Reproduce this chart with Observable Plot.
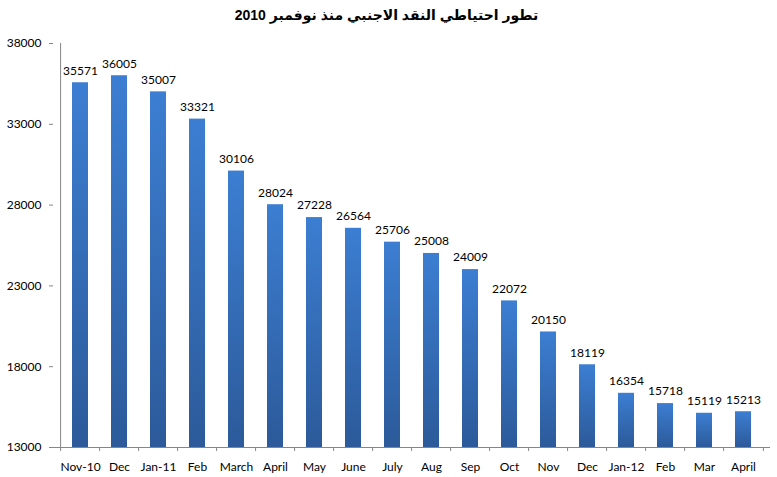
<!DOCTYPE html>
<html><head><meta charset="utf-8">
<script src="https://cdn.jsdelivr.net/npm/d3@7"></script>
<script src="https://cdn.jsdelivr.net/npm/@observablehq/plot@0.6"></script>
<style>
html,body{margin:0;padding:0;background:#fff;}
#title{height:30px;line-height:31px;text-align:center;font-family:"Liberation Sans","DejaVu Sans",Arial,sans-serif;font-weight:bold;font-size:14px;color:#000;padding-right:4px;}
svg{display:block;}
</style></head>
<body>
<div id="title">تطور احتياطي النقد الاجنبي منذ نوفمبر 2010</div>
<div id="chart"></div>
<script>
const months = ["Nov-10","Dec","Jan-11","Feb","March","April","May","June","July","Aug","Sep","Oct","Nov","Dec ","Jan-12","Feb ","Mar","April "];
const reserves = [35571,36005,35007,33321,30106,28024,27228,26564,25706,25008,24009,22072,20150,18119,16354,15718,15119,15213];
const yTicks = [13000,18000,23000,28000,33000,38000];

const data = months.map((m,i)=>({month:m, value:reserves[i]}));
const W = 777, marginLeft = 53, marginRight = 7;
const step = (W - marginLeft - marginRight) / months.length;

const chart = Plot.plot({
  width: W,
  height: 447,
  marginTop: 13,
  marginBottom: 30,
  marginLeft,
  marginRight,
  style: {fontFamily: "Lato, 'Open Sans', sans-serif", fontSize: "12px", color: "#000", background: "#fff"},
  x: {domain: months, paddingInner: 0.6, paddingOuter: 0.3, label: null},
  y: {domain: [13000, 38000], label: null},
  marks: [
    Plot.barY(data, {x: "month", y1: 13000, y2: "value", fill: "url(#barGrad)"}),
    Plot.text(data, {x: "month", y: "value", text: d => String(d.value), dy: -12, fill: "#000", fontSize: 12}),
    Plot.axisY({ticks: yTicks, tickSize: 4, tickPadding: 8, stroke: "#868686", fill: "#000", tickFormat: d => String(d), fontSize: 12}),
    Plot.axisX({tickSize: 0, tickPadding: 15, fill: "#000", fontSize: 12, tickFormat: d => d.trim()}),
    Plot.ruleX(months, {x: d => d, dx: -step/2, y1: 13000, y2: 13000, insetBottom: -4, stroke: "#868686"}),
    Plot.ruleX([months[months.length-1]], {x: d => d, dx: step/2, y1: 13000, y2: 13000, insetBottom: -4, stroke: "#868686"}),
    Plot.ruleY([13000], {stroke: "#868686"}),
    Plot.ruleX([months[0]], {x: d => d, dx: -step/2, y1: 13000, y2: 38000, stroke: "#868686"})
  ]
});
document.getElementById("chart").appendChild(chart);
const svg = d3.select(chart);
const grad = svg.insert("defs", ":first-child").append("linearGradient")
  .attr("id", "barGrad").attr("x1", 0).attr("y1", 0).attr("x2", 0).attr("y2", 1);
grad.append("stop").attr("offset", "0%").attr("stop-color", "#3c7ed2");
grad.append("stop").attr("offset", "100%").attr("stop-color", "#2c5a9a");
</script>
</body></html>
